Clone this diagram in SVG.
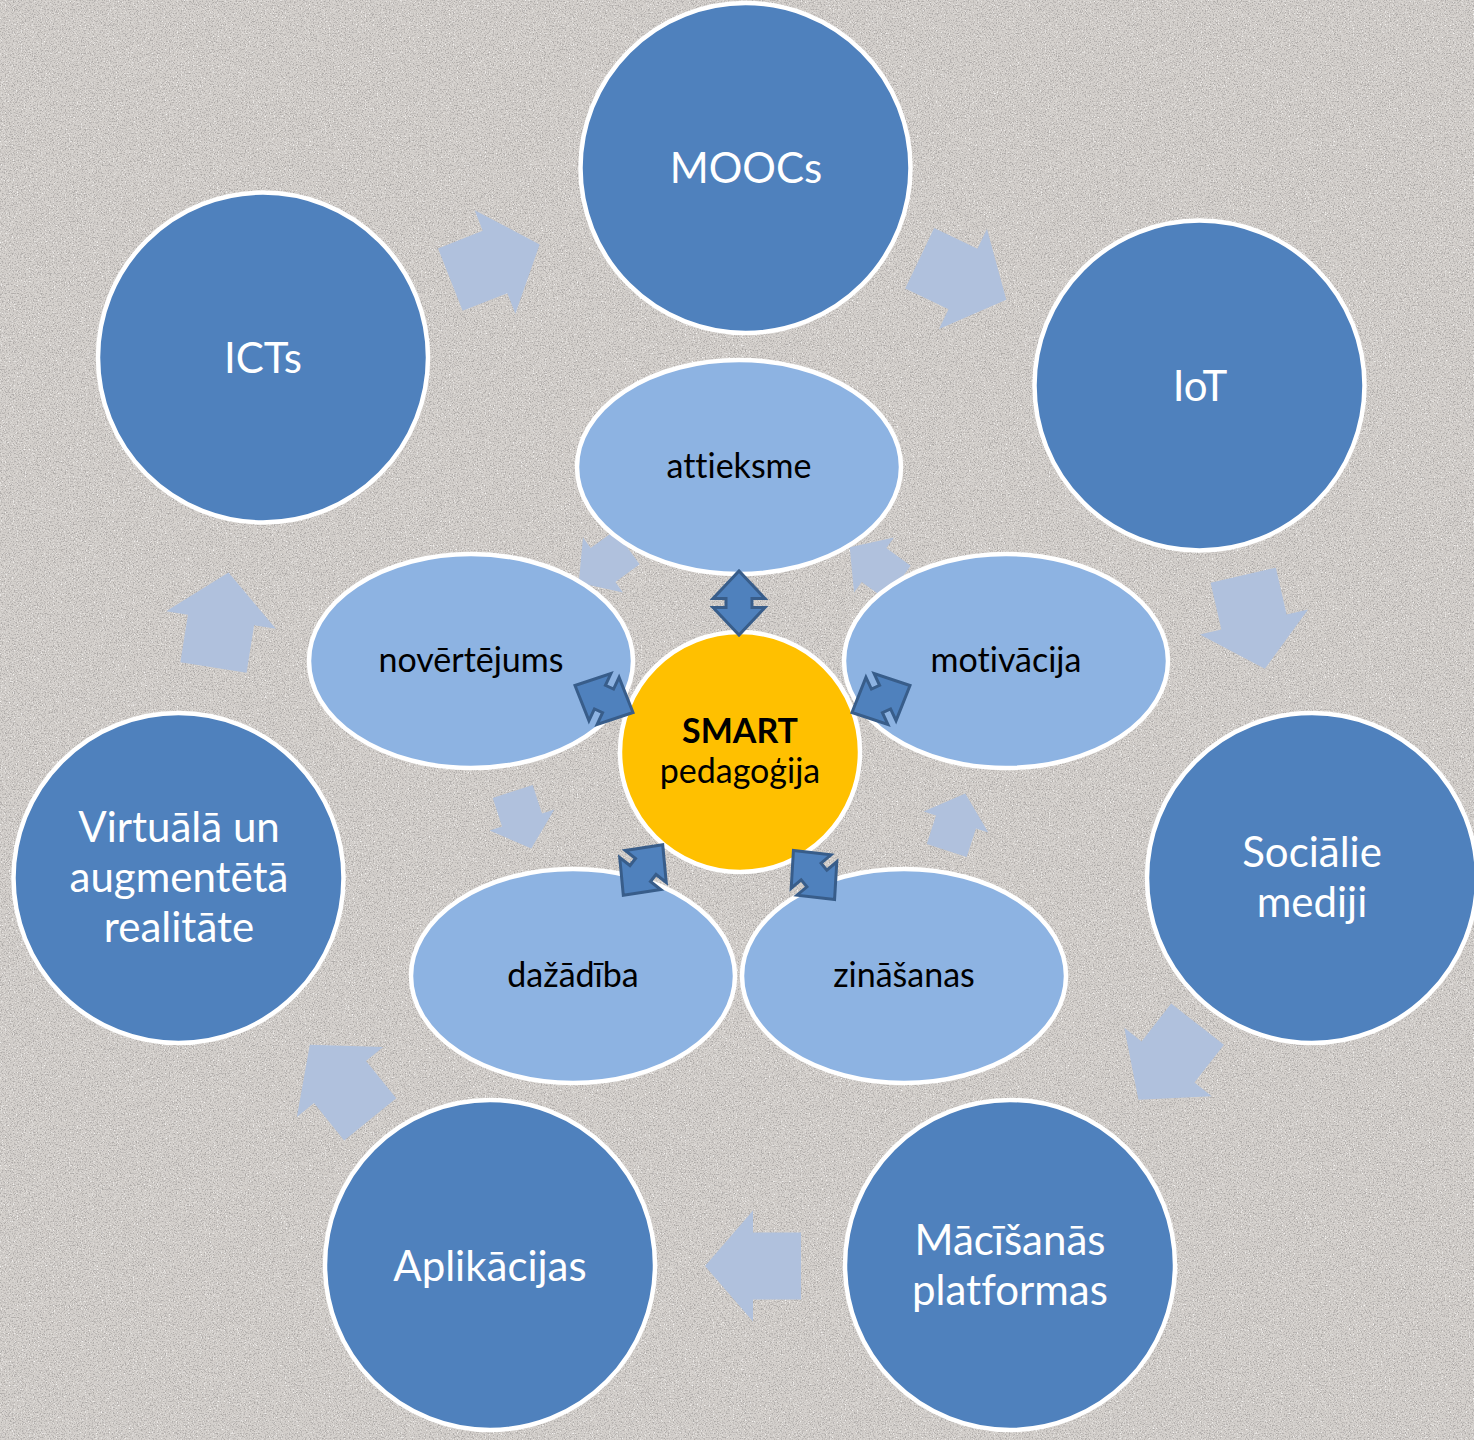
<svg xmlns="http://www.w3.org/2000/svg" xmlns:xlink="http://www.w3.org/1999/xlink" width="1474" height="1440" viewBox="0 0 1474 1440">
<defs>
<filter id="grain" x="0" y="0" width="1474" height="1440" filterUnits="userSpaceOnUse">
<feTurbulence type="fractalNoise" baseFrequency="0.75" numOctaves="2" seed="7" result="n"/>
<feColorMatrix in="n" type="matrix" values="0 0 0 0 0.42  0 0 0 0 0.40  0 0 0 0 0.39  3.6 0 0 0 -1.7" result="dark"/>
<feColorMatrix in="n" type="matrix" values="0 0 0 0 0.95  0 0 0 0 0.94  0 0 0 0 0.93  0 -3.6 0 0 1.5" result="light"/>
<feMerge><feMergeNode in="light"/><feMergeNode in="dark"/></feMerge>
</filter>
<path id="bigArrow" d="M-48,-33.5 H0 V-55.5 L48,0 L0,55.5 V33.5 H-48 Z"/>
<path id="smallArrow" d="M-30,-21 H0 V-34 L30,0 L0,34 V21 H-30 Z"/>
<path id="dblArrow" d="M32,0 L4.5,26 V13 H-4.5 V26 L-32,0 L-4.5,-26 V-13 H4.5 V-26 Z"/>
</defs>
<style>
.outer{fill:#4F81BD;stroke:#FFFFFF;stroke-width:4.5}
.inner{fill:#8DB3E2;stroke:#FFFFFF;stroke-width:4.5}
.core{fill:#FFC000;stroke:#FFFFFF;stroke-width:4.5}
.cyc{fill:#B0C1DD}
.dbl{fill:#4F81BD;stroke:#385D8A;stroke-width:3;stroke-linejoin:miter}
text{font-variant-ligatures:none;font-feature-settings:"liga" 0}
.tw{font-family:Lato,"Liberation Sans",sans-serif;font-size:42px;fill:#FFFFFF;text-anchor:middle}
.tb{font-family:Lato,"Liberation Sans",sans-serif;font-size:34px;fill:#000000;text-anchor:middle}
.bold{font-weight:bold}
</style>
<rect width="1474" height="1440" fill="#D4D0CC"/>
<rect width="1474" height="1440" fill="#000" filter="url(#grain)"/>

<g id="connectors">
<g id="cycle-outer">
<use xlink:href="#bigArrow" class="cyc" transform="translate(495,262) rotate(-21.5)"/>
<use xlink:href="#bigArrow" class="cyc" transform="translate(963,279) rotate(25.6)"/>
<use xlink:href="#bigArrow" class="cyc" transform="translate(1254,622) rotate(77)"/>
<use xlink:href="#bigArrow" class="cyc" transform="translate(1168,1062) rotate(128)"/>
<use xlink:href="#bigArrow" class="cyc" transform="translate(753,1266) rotate(180)"/>
<use xlink:href="#bigArrow" class="cyc" transform="translate(340,1082) rotate(231)"/>
<use xlink:href="#bigArrow" class="cyc" transform="translate(221,620) rotate(-81)"/>
</g>
<g id="cycle-inner">
<use xlink:href="#smallArrow" class="cyc" transform="translate(603,565) rotate(144)"/>
<use xlink:href="#smallArrow" class="cyc" transform="translate(874,565) rotate(-144)"/>
<use xlink:href="#smallArrow" class="cyc" transform="translate(956,822) rotate(-72)"/>
<use xlink:href="#smallArrow" class="cyc" transform="translate(522,820) rotate(72)"/>
</g>
</g>

<g id="node-moocs"><circle class="outer" cx="745.5" cy="168" r="165"/><text class="tw" x="746" y="183">MOOCs</text></g>
<g id="node-iot"><circle class="outer" cx="1199.5" cy="385.5" r="165"/><text class="tw" x="1200" y="401">IoT</text></g>
<g id="node-socialie"><circle class="outer" cx="1312" cy="878" r="165"/><text class="tw" x="1312" y="867">Sociālie</text><text class="tw" x="1312" y="917">mediji</text></g>
<g id="node-macisanas"><circle class="outer" cx="1010" cy="1265" r="165"/><text class="tw" x="1010" y="1255">Mācīšanās</text><text class="tw" x="1010" y="1305">platformas</text></g>
<g id="node-aplikacijas"><circle class="outer" cx="490" cy="1265" r="165"/><text class="tw" x="490" y="1281">Aplikācijas</text></g>
<g id="node-virtuala"><circle class="outer" cx="178.5" cy="878" r="165"/><text class="tw" x="179" y="842">Virtuālā un</text><text class="tw" x="179" y="892">augmentētā</text><text class="tw" x="179" y="942">realitāte</text></g>
<g id="node-icts"><circle class="outer" cx="263" cy="357.5" r="165"/><text class="tw" x="263" y="373">ICTs</text></g>

<g id="node-attieksme"><ellipse class="inner" cx="739" cy="467" rx="162" ry="107"/><text class="tb" x="739" y="478">attieksme</text></g>
<g id="node-motivacija"><ellipse class="inner" cx="1006" cy="661" rx="162" ry="107"/><text class="tb" x="1006" y="672">motivācija</text></g>
<g id="node-zinasanas"><ellipse class="inner" cx="904" cy="976" rx="162" ry="107"/><text class="tb" x="904" y="987">zināšanas</text></g>
<g id="node-dazadiba"><ellipse class="inner" cx="573" cy="976" rx="162" ry="107"/><text class="tb" x="573" y="987">dažādība</text></g>
<g id="node-novertejums"><ellipse class="inner" cx="471" cy="661" rx="162" ry="107"/><text class="tb" x="471" y="672">novērtējums</text></g>

<g id="node-smart"><circle class="core" cx="740" cy="752" r="120"/><text class="tb bold" x="740" y="743">SMART</text><text class="tb" x="740" y="783">pedagoģija</text></g>

<g id="links">
<use xlink:href="#dblArrow" class="dbl" transform="translate(739,603) rotate(90)"/>
<use xlink:href="#dblArrow" class="dbl" transform="translate(881,699) rotate(-25)"/>
<use xlink:href="#dblArrow" class="dbl" transform="translate(604,699) rotate(205)"/>
<use xlink:href="#dblArrow" class="dbl" transform="translate(814,875) rotate(50)"/>
<use xlink:href="#dblArrow" class="dbl" transform="translate(643,870) rotate(128)"/>
</g>
</svg>
